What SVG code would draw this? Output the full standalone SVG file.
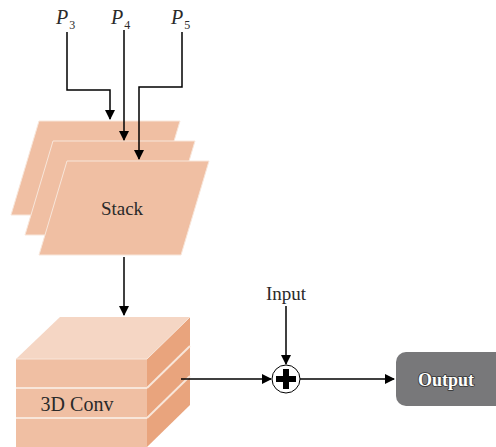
<svg xmlns="http://www.w3.org/2000/svg" width="496" height="447" viewBox="0 0 496 447">
<defs>
<marker id="ah" markerWidth="10" markerHeight="10" refX="9" refY="5" orient="auto" markerUnits="userSpaceOnUse">
<path d="M0,0 L10,5 L0,10 Z" fill="#000"/>
</marker>
<style>
.t{font-family:"Liberation Serif","Times New Roman",serif;fill:#2a2a2a;}
.ln{stroke:#000;stroke-width:1.5;fill:none;}
.pl{fill:#f0bfa3;stroke:#f8e6da;stroke-width:1;}
</style>
</defs>
<rect width="496" height="447" fill="#fff"/>
<g id="labels">
<text class="t" font-family="Liberation Serif, serif" x="56" y="24" font-size="20" font-style="italic">P<tspan font-size="12" font-style="normal" dx="1" dy="5">3</tspan></text>
<text class="t" font-family="Liberation Serif, serif" x="111" y="24" font-size="20" font-style="italic">P<tspan font-size="12" font-style="normal" dx="1" dy="5">4</tspan></text>
<text class="t" font-family="Liberation Serif, serif" x="171" y="24" font-size="20" font-style="italic">P<tspan font-size="12" font-style="normal" dx="1" dy="5">5</tspan></text>
</g>
<g id="stack">
<polygon class="pl" points="39,121 180,121 152,215 11,215"/>
<polygon class="pl" points="53,141 195,141 167,235 25,235"/>
<polygon class="pl" points="67,161 209,161 181,255 39,255"/>
<text class="t" font-family="Liberation Serif, serif" x="122" y="215" font-size="19" text-anchor="middle">Stack</text>
</g>
<g id="conv3d">
<polygon points="16,359 60,317 190,317 147,359" fill="#f5d6c4"/>
<polygon points="147,359 190,317 190,405 147,447" fill="#e9a47d"/>
<rect x="16" y="359" width="131" height="88" fill="#f0bfa3"/>
<line x1="16" y1="388" x2="147" y2="388" stroke="#f8e6da" stroke-width="2"/>
<line x1="16" y1="418" x2="147" y2="418" stroke="#f8e6da" stroke-width="2"/>
<line x1="147" y1="388" x2="190" y2="346" stroke="#f8e6da" stroke-width="2"/>
<line x1="147" y1="418" x2="190" y2="376" stroke="#f8e6da" stroke-width="2"/>
<line x1="147" y1="359" x2="190" y2="317" stroke="#f8e6da" stroke-width="1"/>
<line x1="16" y1="359" x2="147" y2="359" stroke="#f8e6da" stroke-width="1"/>
<text class="t" font-family="Liberation Serif, serif" x="77" y="411" font-size="20" text-anchor="middle">3D Conv</text>
</g>
<g id="input">
<text class="t" font-family="Liberation Serif, serif" x="286" y="300" font-size="19" text-anchor="middle">Input</text>
</g>
<g id="add">
<circle cx="286" cy="379" r="14" fill="#fff" stroke="#000" stroke-width="1"/>
<rect x="276" y="376" width="20" height="6" fill="#000"/>
<rect x="283" y="369" width="6" height="20" fill="#000"/>
</g>
<g id="output">
<rect x="396" y="352" width="110" height="54" rx="10" fill="#78787a"/>
<text x="446" y="386" font-size="18" text-anchor="middle" font-family="Liberation Serif, serif" font-weight="bold" fill="#fff" stroke="#333" stroke-width="1.6" paint-order="stroke" stroke-linejoin="round">Output</text>
</g>
<g id="connectors">
<polyline class="ln" points="67,32 67,90 110,90 110,119" marker-end="url(#ah)"/>
<polyline class="ln" points="124,30 124,140" marker-end="url(#ah)"/>
<polyline class="ln" points="182,32 182,87 139,87 139,159" marker-end="url(#ah)"/>
<line class="ln" x1="124" y1="257" x2="124" y2="315" marker-end="url(#ah)"/>
<line class="ln" x1="181" y1="379" x2="271" y2="379" marker-end="url(#ah)"/>
<line class="ln" x1="286" y1="306" x2="286" y2="364" marker-end="url(#ah)"/>
<line class="ln" x1="300" y1="379" x2="394" y2="379" marker-end="url(#ah)"/>
</g>
</svg>
